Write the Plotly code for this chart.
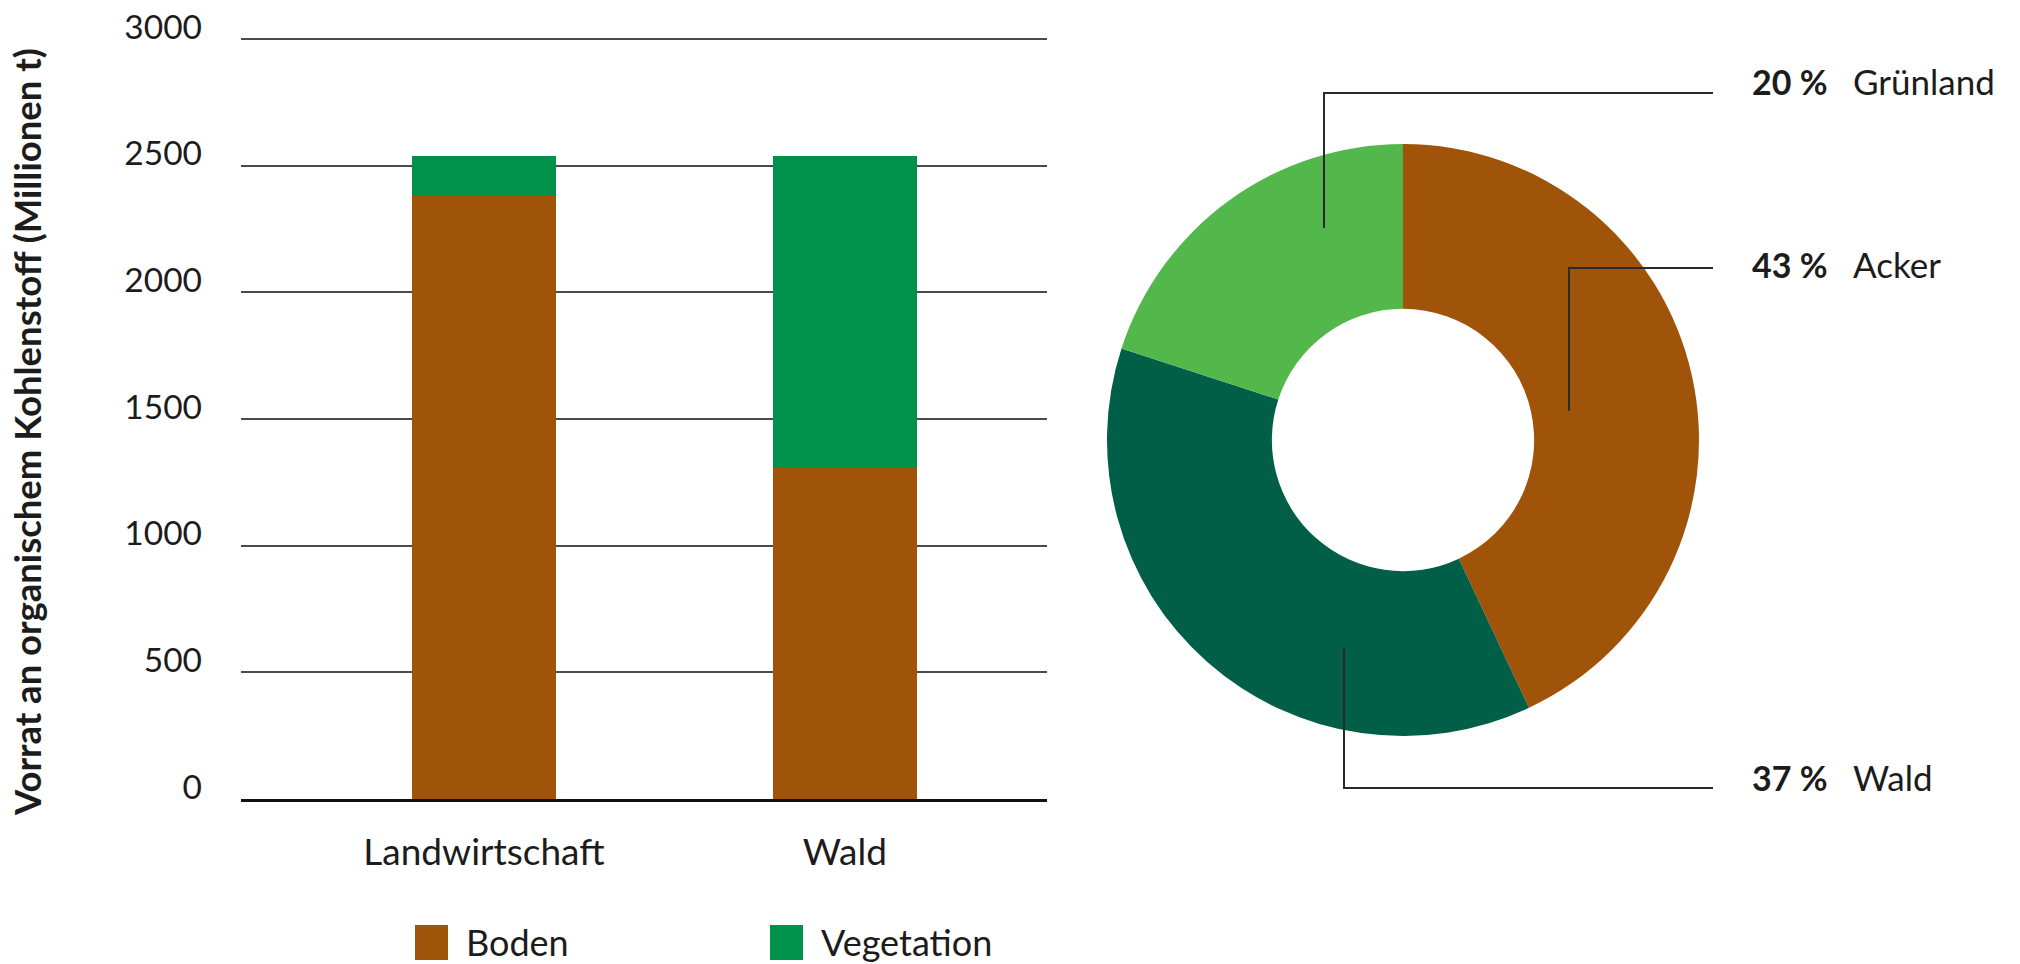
import plotly.graph_objects as go

# ---- data ----
categories = ["Landwirtschaft", "Wald"]
boden = [2380, 1305]          # Mio. t organischer Kohlenstoff im Boden
vegetation = [158, 1233]      # Mio. t organischer Kohlenstoff in der Vegetation
y_ticks = [0, 500, 1000, 1500, 2000, 2500, 3000]

land_use = ["Acker", "Wald", "Grünland"]
shares = [43, 37, 20]         # Anteil am Bodenkohlenstoff in %

# ---- styling ----
W, H = 2020, 964
BROWN = "#A0540A"
VEG_GREEN = "#00914A"
FOREST = "#005F46"
GRASS = "#52B84B"
INK = "#1c1c1c"
FONT = "Lato"

# vertical pixel scale of the bar panel: 0 at y=799, 3000 at y=39
Y0_PX, Y3000_PX = 799, 39
Y_TOP = 3010
PX_PER_UNIT = (Y0_PX - Y3000_PX) / 3000


def px(x):
    return x / W


def py(y):
    return 1 - y / H


fig = go.Figure()

fig.add_trace(go.Bar(
    x=categories, y=boden, name="Boden",
    marker=dict(color=BROWN, line=dict(width=0)),
    width=0.4, showlegend=False, hoverinfo="skip",
))
fig.add_trace(go.Bar(
    x=categories, y=vegetation, name="Vegetation",
    marker=dict(color=VEG_GREEN, line=dict(width=0)),
    width=0.4, showlegend=False, hoverinfo="skip",
))

pie_colors = {"Acker": BROWN, "Wald": FOREST, "Grünland": GRASS}
fig.add_trace(go.Pie(
    labels=land_use, values=shares, hole=0.443, sort=False,
    direction="clockwise", rotation=0, textinfo="none",
    marker=dict(colors=[pie_colors[k] for k in land_use], line=dict(width=0)),
    domain=dict(x=[px(1107), px(1699)], y=[py(736), py(144)]),
    showlegend=False, hoverinfo="skip",
))

fig.update_layout(
    width=W, height=H,
    margin=dict(l=0, r=0, t=0, b=0, autoexpand=False),
    paper_bgcolor="white", plot_bgcolor="white",
    barmode="stack", bargap=0,
    font=dict(family=FONT, color=INK, size=32),
    xaxis=dict(
        domain=[px(241), px(1047)],
        range=[-0.673, 1.56],
        automargin=False,
        showgrid=False, zeroline=False,
        showline=True, linecolor="#111111", linewidth=3,
        ticks="", tickfont=dict(size=37, family=FONT, color=INK),
        ticklabelstandoff=19,
    ),
    yaxis=dict(
        domain=[py(Y0_PX), py(Y0_PX - Y_TOP * PX_PER_UNIT)],
        range=[0, Y_TOP],
        automargin=False,
        tickvals=y_ticks,
        showgrid=True, gridcolor="#4a4a4a", gridwidth=2,
        zeroline=False, showline=False,
        ticks="", ticklabelposition="outside",
        ticklabelstandoff=38, ticklabelshift=-12,
        tickfont=dict(size=33.5, family=FONT, color=INK),
    ),
)

# y-axis title
fig.add_annotation(
    x=px(27), y=py(432), xref="paper", yref="paper",
    text="<b>Vorrat an organischem Kohlenstoff (Millionen t)</b>",
    textangle=-90, showarrow=False, xanchor="center", yanchor="middle",
    font=dict(size=36.5, family=FONT, color=INK),
)

# legend for the bar chart
legend_items = [("Boden", BROWN, 415), ("Vegetation", VEG_GREEN, 770)]
for name, color, x0 in legend_items:
    fig.add_shape(type="rect", xref="paper", yref="paper",
                  x0=px(x0), x1=px(x0 + 33), y0=py(960), y1=py(925),
                  fillcolor=color, line=dict(width=0))
    fig.add_annotation(x=px(x0 + 49), y=py(942), xref="paper", yref="paper",
                       text=name, showarrow=False, xanchor="left", yanchor="middle",
                       font=dict(size=36, family=FONT, color=INK))

# leader lines and labels for the donut: (path points, label offset above the line end)
leaders = {
    "Grünland": ([(1324, 228), (1324, 93), (1713, 93)], 12),
    "Acker": ([(1569, 411), (1569, 268), (1713, 268)], 4),
    "Wald": ([(1344, 648), (1344, 788), (1713, 788)], 11),
}
for name, share in zip(land_use, shares):
    pts, lift = leaders[name]
    path = "M {} {}".format(px(pts[0][0]), py(pts[0][1]))
    for (x, y) in pts[1:]:
        path += " L {} {}".format(px(x), py(y))
    fig.add_shape(type="path", xref="paper", yref="paper", path=path,
                  line=dict(color="#2a2a2a", width=2))
    ly = pts[-1][1] - lift
    fig.add_annotation(x=px(1750), y=py(ly), xref="paper", yref="paper",
                       text="<b>{} %</b>".format(share), showarrow=False,
                       xanchor="left", yanchor="middle",
                       font=dict(size=34, family=FONT, color=INK))
    fig.add_annotation(x=px(1851), y=py(ly), xref="paper", yref="paper",
                       text=name, showarrow=False,
                       xanchor="left", yanchor="middle",
                       font=dict(size=35, family=FONT, color=INK))

fig.write_html("out.html")
